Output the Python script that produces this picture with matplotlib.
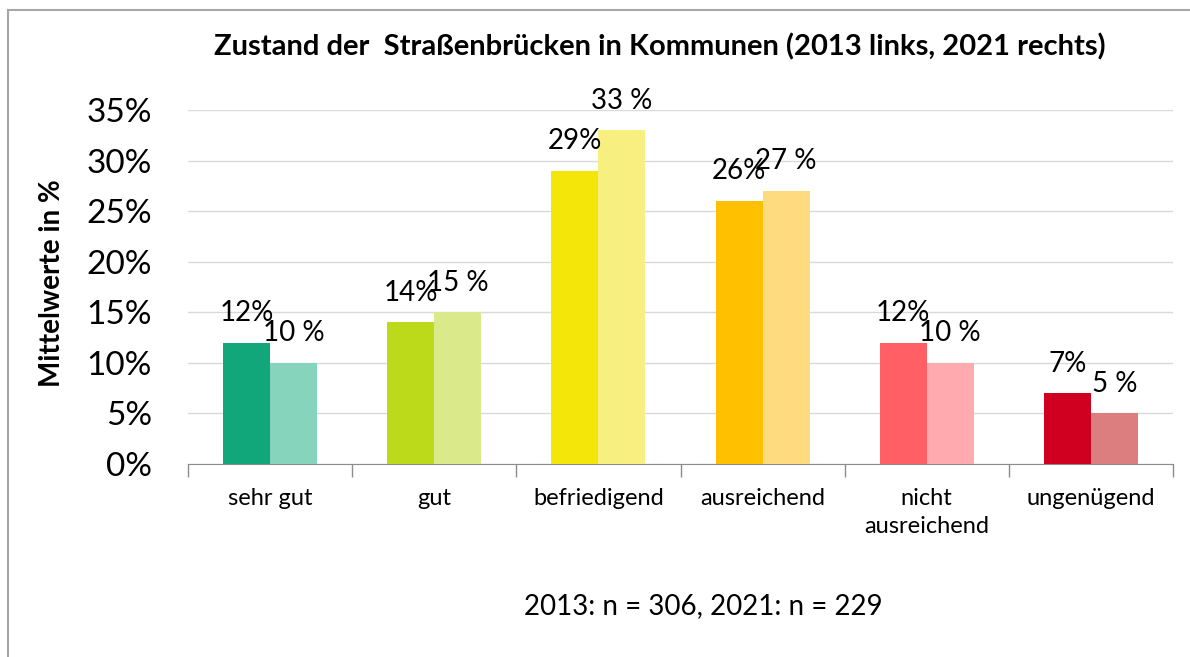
import matplotlib
matplotlib.use('Agg')
import matplotlib.pyplot as plt
import numpy as np
from matplotlib.patches import Rectangle
from matplotlib.ticker import FuncFormatter

plt.rcParams['font.family'] = ['Lato', 'DejaVu Sans']

# Daten
kategorien = ['sehr gut', 'gut', 'befriedigend', 'ausreichend', 'nicht\nausreichend', 'ungenügend']
werte_2013 = [12, 14, 29, 26, 12, 7]
werte_2021 = [10, 15, 33, 27, 10, 5]
labels_2013 = ['12%', '14%', '29%', '26%', '12%', '7%']
labels_2021 = ['10 %', '15 %', '33 %', '27 %', '10 %', '5 %']
farben_2013 = ['#12A77B', '#BCD91A', '#F5E60A', '#FFC000', '#FF5F65', '#D00020']
farben_2021 = ['#86D4BC', '#DAE98A', '#F7F080', '#FFDB7F', '#FFAAAE', '#DC7D80']

fig = plt.figure(figsize=(11.9, 6.57), dpi=100)
# Rahmen (links/oben sichtbar)
fig.patches.append(Rectangle((8/1190, -0.1), 1.2, 1 - 10/657 + 0.1, transform=fig.transFigure,
                             fill=False, edgecolor='#A6A6A6', lw=1.5))

ax = fig.add_axes([188/1190, 1 - 464/657, 985/1190, 354/657])
x = np.arange(len(kategorien))
b = 0.286
ax.bar(x - b/2, werte_2013, b, color=farben_2013, zorder=3)
ax.bar(x + b/2, werte_2021, b, color=farben_2021, zorder=3)

for i in range(len(kategorien)):
    ax.annotate(labels_2013[i], (x[i] - b/2, werte_2013[i]), xytext=(0, 12), textcoords='offset points',
                ha='center', va='bottom', fontsize=20, zorder=5)
    ax.annotate(labels_2021[i], (x[i] + b/2, werte_2021[i]), xytext=(0, 12), textcoords='offset points',
                ha='center', va='bottom', fontsize=20, zorder=5)

ax.set_xlim(-0.5, len(kategorien) - 0.5)
ax.set_ylim(0, 35)
ax.set_yticks(range(0, 36, 5))
ax.yaxis.set_major_formatter(FuncFormatter(lambda v, p: '%d%%' % v))
ax.tick_params(axis='y', labelsize=24, length=0, pad=26)
ax.grid(axis='y', color='#D9D9D9', lw=1, zorder=0)
ax.set_axisbelow(True)

ax.set_xticks(x)
ax.set_xticklabels(kategorien, fontsize=17, linespacing=1.45, va='top')
ax.tick_params(axis='x', length=0, pad=17)
# Trennstriche zwischen den Kategorien
ax.set_xticks(np.arange(-0.5, len(kategorien)), minor=True)
ax.tick_params(axis='x', which='minor', length=9, color='#8C8C8C', width=1)

for s in ['left', 'right', 'top']:
    ax.spines[s].set_visible(False)
ax.spines['bottom'].set_color('#8C8C8C')

ax.set_ylabel('Mittelwerte in %', fontsize=20, fontweight='bold')
ax.yaxis.set_label_coords((65 - 188) / 985, (464 - 283) / 354)

fig.text(660/1190, 1 - 47/657, 'Zustand der  Straßenbrücken in Kommunen (2013 links, 2021 rechts)',
         ha='center', va='center', fontsize=21, fontweight='bold')
fig.text(703/1190, 1 - 606/657, '2013: n = 306, 2021: n = 229', ha='center', va='center', fontsize=20)

fig.savefig('out.png', dpi=100)
